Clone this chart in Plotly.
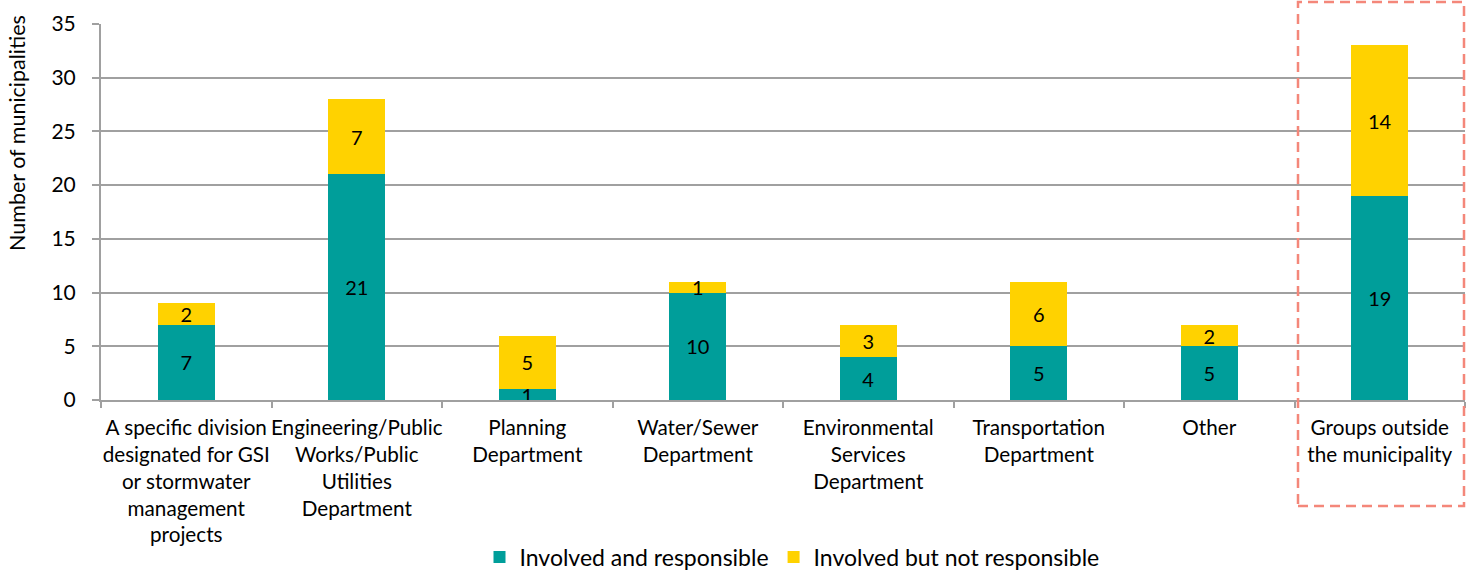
import plotly.graph_objects as go

categories = [
    "A specific division<br>designated for GSI<br>or stormwater<br>management<br>projects",
    "Engineering/Public<br>Works/Public<br>Utilities<br>Department",
    "Planning<br>Department",
    "Water/Sewer<br>Department",
    "Environmental<br>Services<br>Department",
    "Transportation<br>Department",
    "Other",
    "Groups outside<br>the municipality",
]
responsible = [7, 21, 1, 10, 4, 5, 5, 19]
not_responsible = [2, 7, 5, 1, 3, 6, 2, 14]
series_names = ["Involved and responsible", "Involved but not responsible"]
y_ticks = [0, 5, 10, 15, 20, 25, 30, 35]
y_title = "Number of municipalities"

FONT = "Lato, 'Open Sans', sans-serif"
TEAL = "#009E9A"
YELLOW = "#FFD200"
GRID = "#A0A0A0"

L, R, T, B = 101, 1, 24, 171
PW = 1466 - L - R
PH = 571 - T - B

fig = go.Figure()
for vals, name, col in [(responsible, series_names[0], TEAL),
                        (not_responsible, series_names[1], YELLOW)]:
    fig.add_trace(go.Bar(
        x=categories, y=vals, name=name,
        marker=dict(color=col, line=dict(width=0)),
        text=vals, textposition="inside", insidetextanchor="middle",
        textangle=0, constraintext="none",
        textfont=dict(family=FONT, size=20, color="black"),
    ))

fig.update_layout(
    barmode="stack",
    bargap=0.665,
    width=1466, height=571,
    margin=dict(l=L, r=R, t=T, b=B, autoexpand=False),
    plot_bgcolor="white", paper_bgcolor="white",
    font=dict(family=FONT, size=20, color="black"),
    uniformtext=dict(minsize=20, mode="show"),
    legend=dict(
        orientation="h", x=(792 - 101) / PW, xanchor="center",
        y=(400 - 557) / PH, yanchor="middle",
        font=dict(family=FONT, size=23, color="black"),
        itemwidth=30, traceorder="normal",
    ),
    xaxis=dict(
        type="category", showline=True, linecolor=GRID, linewidth=2,
        ticks="outside", tickson="boundaries", ticklen=6, tickcolor=GRID, tickwidth=2,
        tickfont=dict(family=FONT, size=20.7, color="black"),
        tickangle=0, automargin=False,
        ticklabelstandoff=8,
        showgrid=False,
    ),
    yaxis=dict(
        range=[0, 35], tickvals=y_ticks, showline=True, linecolor=GRID, linewidth=2,
        ticks="outside", ticklen=7, tickcolor=GRID, tickwidth=2,
        showgrid=True, gridcolor=GRID, gridwidth=2, zeroline=False,
        tickfont=dict(family=FONT, size=21, color="black"),
        ticklabelstandoff=12, automargin=False,
    ),
    annotations=[dict(
        text=y_title, textangle=-90, showarrow=False,
        xref="paper", yref="paper",
        x=(17 - 101) / PW, y=(400 - 133) / PH,
        xanchor="center", yanchor="middle",
        font=dict(family=FONT, size=21.5, color="black"),
    )],
    shapes=[dict(
        type="rect", xref="paper", yref="paper",
        x0=(1298 - 101) / PW, x1=(1464 - 101) / PW,
        y0=(400 - 506) / PH, y1=(400 - 2) / PH,
        line=dict(color="#F4877A", width=2.5, dash="10px,6px"),
        fillcolor="rgba(0,0,0,0)", layer="above",
    )],
)

fig.write_html("out.html", config={"displayModeBar": False},
               post_script="document.body.style.margin='0';")
